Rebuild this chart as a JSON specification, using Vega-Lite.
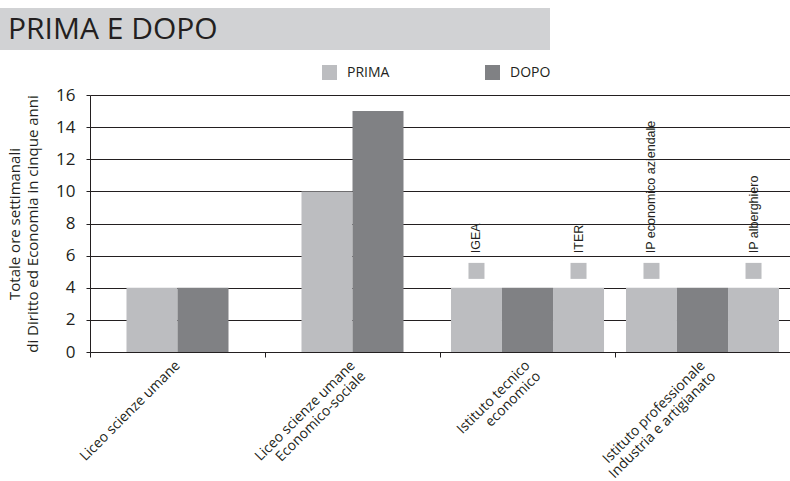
{
  "$schema": "https://vega.github.io/schema/vega-lite/v6.json",
  "padding": {"top": 8, "left": 0, "right": 0, "bottom": 0},
  "background": "white",
  "config": {"font": "Open Sans", "view": {"stroke": null}},
  "spacing": 36,
  "vconcat": [
    {
      "width": 460,
      "height": 42,
      "data": {"values": [{"t": "PRIMA E DOPO"}]},
      "layer": [
        {
          "mark": {"type": "rect", "color": "#d1d2d4", "clip": false},
          "encoding": {"x": {"value": -90}, "x2": {"value": 460}, "y": {"value": 0}, "y2": {"value": 42}}
        },
        {
          "mark": {"type": "text", "align": "left", "baseline": "alphabetic", "fontSize": 30, "color": "#231f20", "font": "Open Sans"},
          "encoding": {"text": {"field": "t"}, "x": {"value": -82}, "y": {"value": 31}}
        }
      ]
    },
    {
      "width": 700,
      "height": 257,
      "data": {
        "values": [
          {"group": "Liceo scienze umane", "series": "PRIMA", "slot": 2, "value": 4, "label": null},
          {"group": "Liceo scienze umane", "series": "DOPO", "slot": 4, "value": 4, "label": null},
          {"group": "Liceo scienze umane\nEconomico-sociale", "series": "PRIMA", "slot": 2, "value": 10, "label": null},
          {"group": "Liceo scienze umane\nEconomico-sociale", "series": "DOPO", "slot": 4, "value": 15, "label": null},
          {"group": "Istituto tecnico\neconomico", "series": "PRIMA", "slot": 1, "value": 4, "label": "IGEA"},
          {"group": "Istituto tecnico\neconomico", "series": "DOPO", "slot": 3, "value": 4, "label": null},
          {"group": "Istituto tecnico\neconomico", "series": "PRIMA", "slot": 5, "value": 4, "label": "ITER"},
          {"group": "Istituto professionale\nIndustria e artigianato", "series": "PRIMA", "slot": 1, "value": 4, "label": "IP economico aziendale"},
          {"group": "Istituto professionale\nIndustria e artigianato", "series": "DOPO", "slot": 3, "value": 4, "label": null},
          {"group": "Istituto professionale\nIndustria e artigianato", "series": "PRIMA", "slot": 5, "value": 4, "label": "IP alberghiero"}
        ]
      },
      "encoding": {
        "x": {
          "field": "group", "type": "nominal", "sort": null,
          "scale": {"paddingInner": 0, "paddingOuter": 0},
          "axis": {
            "title": null, "grid": false, "domain": true, "domainColor": "#231f20", "domainWidth": 1,
            "ticks": true, "tickBand": "extent", "tickSize": 5, "tickColor": "#231f20",
            "labelAngle": -45, "labelAlign": "right", "labelBaseline": "middle", "labelPadding": 6,
            "labelDx": 6, "labelDy": 8,
            "labelFontSize": 14, "labelColor": "#231f20", "labelLineHeight": 15,
            "labelExpr": "indexof(datum.label, '\\n') >= 0 ? [split(datum.label, '\\n')[0] + '\u00a0\u00a0\u00a0\u00a0', split(datum.label, '\\n')[1]] : datum.label + '\u00a0\u00a0'"
          }
        },
        "xOffset": {"field": "slot", "type": "ordinal", "scale": {"domain": [1, 2, 3, 4, 5], "paddingInner": 0, "paddingOuter": 0.93}},
        "y": {
          "type": "quantitative", "scale": {"domain": [0, 16]},
          "axis": {
            "values": [0, 2, 4, 6, 8, 10, 12, 14, 16], "labelOverlap": false,
            "title": ["Totale ore settimanali", "di Diritto ed Economia in cinque anni"],
            "titleFontSize": 15, "titleFontWeight": "normal", "titleColor": "#231f20", "titleLineHeight": 18, "titlePadding": 15,
            "labelFontSize": 17, "labelColor": "#231f20", "labelPadding": 11,
            "grid": true, "gridColor": "#231f20", "gridWidth": 1,
            "domain": true, "domainColor": "#231f20", "ticks": true, "tickSize": 4, "tickColor": "#231f20"
          }
        }
      },
      "layer": [
        {
          "mark": {"type": "bar", "width": 51},
          "encoding": {
            "y": {
              "field": "value", "type": "quantitative", "scale": {"domain": [0, 16]},
              "axis": {
                "values": [0, 2, 4, 6, 8, 10, 12, 14, 16], "labelOverlap": false,
                "title": ["Totale ore settimanali", "di Diritto ed Economia in cinque anni"],
                "titleFontSize": 15, "titleFontWeight": "normal", "titleColor": "#231f20", "titleLineHeight": 18, "titlePadding": 15,
                "labelFontSize": 17, "labelColor": "#231f20", "labelPadding": 11,
                "grid": true, "gridColor": "#231f20", "gridWidth": 1,
                "domain": true, "domainColor": "#231f20", "ticks": true, "tickSize": 4, "tickColor": "#231f20"
              }
            },
            "color": {
              "field": "series", "type": "nominal",
              "scale": {"domain": ["PRIMA", "DOPO"], "range": ["#bcbdc0", "#808184"]},
              "legend": {
                "title": null, "orient": "none", "legendX": 232, "legendY": 57, "direction": "horizontal",
                "symbolType": "square", "symbolSize": 225, "symbolStrokeWidth": 0, "symbolOpacity": 1,
                "labelFontSize": 14, "labelColor": "#231f20", "labelOffset": 10, "columnPadding": 95
              }
            }
          }
        },
        {
          "transform": [{"filter": "datum.label != null"}],
          "mark": {"type": "square", "size": 256, "filled": true, "color": "#bcbdc0", "opacity": 1},
          "encoding": {"y": {"datum": 5.05}}
        },
        {
          "transform": [{"filter": "datum.label != null"}],
          "mark": {"type": "text", "angle": 270, "align": "left", "baseline": "middle", "fontSize": 12.5, "font": "Liberation Sans", "color": "#231f20"},
          "encoding": {"y": {"datum": 6.15}, "text": {"field": "label"}}
        }
      ]
    }
  ]
}
